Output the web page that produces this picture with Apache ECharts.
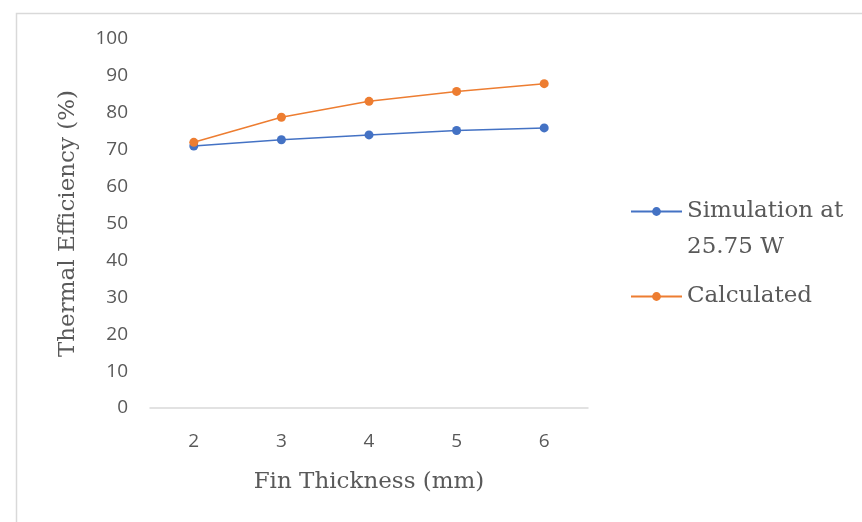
<!DOCTYPE html>
<html>
<head>
<meta charset="utf-8">
<script src="https://cdn.jsdelivr.net/npm/echarts@6/dist/echarts.min.js"></script>
<style>html,body{margin:0;padding:0;background:#fff}#c{width:862px;height:522px}</style>
</head>
<body>
<div id="c"></div>
<script>
const categories = ['2', '3', '4', '5', '6'];
const simulation = [71, 72.7, 74, 75.2, 75.9];
const calculated = [72, 78.8, 83.1, 85.8, 87.9];
const yTicks = [0, 10, 20, 30, 40, 50, 60, 70, 80, 90, 100];
const seriesNames = ['Simulation at 25.75 W', 'Calculated'];

const serif = '"DejaVu Serif", serif';
const sans = '"Open Sans", sans-serif';
const chart = echarts.init(document.getElementById('c'), null, {renderer: 'canvas'});
chart.setOption({
  animation: false,
  graphic: [{
    type: 'rect', left: 14, top: 11, silent: true,
    shape: {width: 900, height: 560},
    style: {fill: 'none', stroke: '#D9D9D9', lineWidth: 1.5}
  }],
  grid: {left: 150, right: 274, top: 39, bottom: 114},
  legend: [{
    data: [seriesNames[0]], orient: 'vertical', left: 625, top: 159,
    itemWidth: 51, itemHeight: 11, itemGap: 0,
    formatter: () => '{a| }\n{a|Simulation at}\n{a|25.75 W}',
    textStyle: {fontFamily: serif, fontSize: 23, color: '#595959',
      rich: {a: {fontFamily: serif, fontSize: 23, color: '#595959', lineHeight: 36}}}
  }, {
    data: [seriesNames[1]], orient: 'vertical', left: 625, top: 280,
    itemWidth: 51, itemHeight: 11,
    textStyle: {fontFamily: serif, fontSize: 23, color: '#595959'}
  }],
  xAxis: {
    type: 'category', data: categories, boundaryGap: true,
    name: 'Fin Thickness (mm)', nameLocation: 'middle', nameGap: 63,
    nameTextStyle: {fontFamily: serif, fontSize: 23, color: '#595959'},
    axisLine: {lineStyle: {color: '#D9D9D9', width: 1.5}},
    axisTick: {show: false},
    axisLabel: {fontFamily: sans, fontSize: 19, color: '#595959', margin: 24}
  },
  yAxis: {
    type: 'value', min: yTicks[0], max: yTicks[yTicks.length - 1], interval: 10,
    name: 'Thermal Efficiency (%)', nameLocation: 'middle', nameGap: 70,
    nameTextStyle: {fontFamily: serif, fontSize: 23, color: '#595959'},
    axisLine: {show: false}, axisTick: {show: false}, splitLine: {show: false},
    axisLabel: {fontFamily: sans, fontSize: 19, color: '#595959', margin: 22}
  },
  series: [{
    name: seriesNames[0], type: 'line', data: simulation,
    symbol: 'circle', symbolSize: 9,
    itemStyle: {color: '#4472C4'}, lineStyle: {color: '#4472C4', width: 1.5}
  }, {
    name: seriesNames[1], type: 'line', data: calculated,
    symbol: 'circle', symbolSize: 9,
    itemStyle: {color: '#ED7D31'}, lineStyle: {color: '#ED7D31', width: 1.5}
  }]
});
</script>
</body>
</html>
